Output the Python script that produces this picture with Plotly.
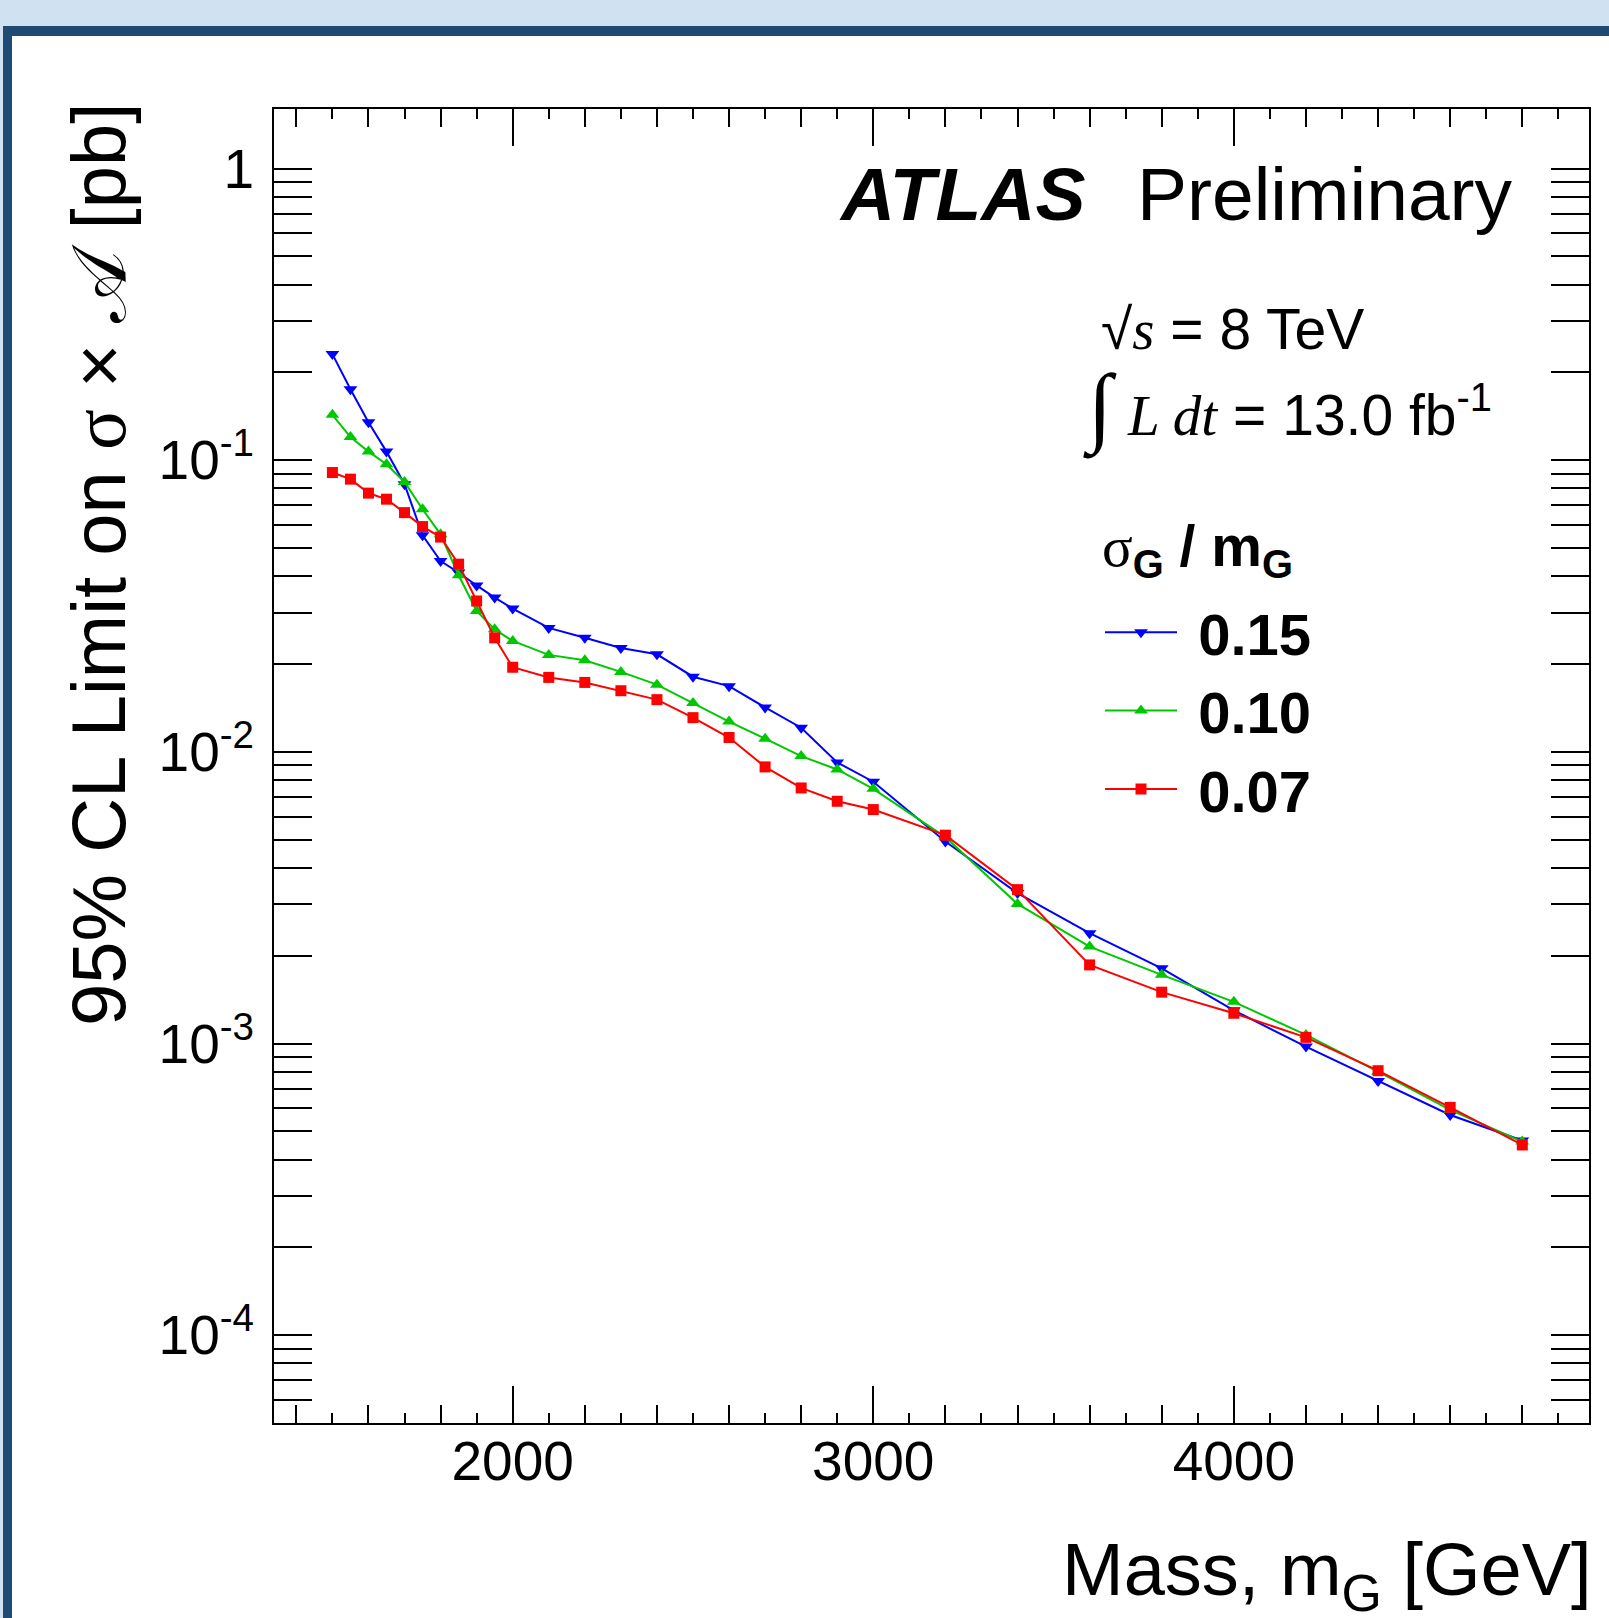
import plotly.graph_objects as go

# ---------------- data ----------------
masses = [1500, 1550, 1600, 1650, 1700, 1750, 1800, 1850, 1900, 1950, 2000,
          2100, 2200, 2300, 2400, 2500, 2600, 2700, 2800, 2900, 3000,
          3200, 3400, 3600, 3800, 4000, 4200, 4400, 4600, 4800]

limit_015 = [0.231, 0.175, 0.135, 0.107, 0.0827, 0.0553, 0.0451, 0.0412, 0.0372, 0.0338, 0.0310,
             0.0266, 0.0246, 0.0227, 0.0216, 0.0181, 0.0168, 0.0142, 0.0121, 0.0092, 0.0079,
             0.00493, 0.00328, 0.00239, 0.00181, 0.00130, 0.000976, 0.000744, 0.000569, 0.000465]

limit_010 = [0.143, 0.120, 0.107, 0.0969, 0.0842, 0.0679, 0.0557, 0.0403, 0.0304, 0.0263, 0.0240,
             0.0215, 0.0206, 0.0188, 0.0170, 0.0147, 0.0127, 0.0111, 0.00967, 0.0087, 0.00747,
             0.0051, 0.00301, 0.00215, 0.00172, 0.00139, 0.00107, 0.000801, 0.000592, 0.000461]

limit_007 = [0.0907, 0.0861, 0.0771, 0.0735, 0.0661, 0.0592, 0.0545, 0.0440, 0.0329, 0.0246, 0.0195,
             0.0180, 0.0173, 0.0162, 0.0151, 0.0131, 0.0112, 0.00888, 0.00752, 0.00677, 0.00634,
             0.00518, 0.00337, 0.00186, 0.00150, 0.00127, 0.00105, 0.000807, 0.000604, 0.000449]

series_names = ["0.15", "0.10", "0.07"]
ytick_vals = [1, 0.1, 0.01, 0.001, 0.0001]
ytick_text = ["1", "10<sup>-1</sup>", "10<sup>-2</sup>", "10<sup>-3</sup>", "10<sup>-4</sup>"]

# ---------------- styling ----------------
FONT = "Liberation Sans, Arial, Helvetica, sans-serif"
W, H = 1609, 1618
L, R, T, B = 274, 20, 109, 195
PW, PH = W - L - R, H - T - B


def px(x):
    return (x - L) / PW


def py(y):
    return (H - B - y) / PH


fig = go.Figure()
styles = [
    dict(color="#0000ff", symbol="triangle-down", size=12),
    dict(color="#00c800", symbol="triangle-up", size=12),
    dict(color="#ff0000", symbol="square", size=11),
]
for name, vals, st in zip(series_names, [limit_015, limit_010, limit_007], styles):
    fig.add_trace(go.Scatter(
        x=masses, y=vals, mode="lines+markers", name="\u00a0<b>" + name + "</b>",
        legendgroup=name,
        line=dict(color=st["color"], width=2),
        marker=dict(color=st["color"], symbol=st["symbol"], size=st["size"], line=dict(width=0)),
    ))

# empty helper trace so the secondary tick axis is drawn
fig.add_trace(go.Scatter(x=[], y=[], xaxis="x2", showlegend=False, hoverinfo="skip"))

xr = [1338, 4985]
fig.update_layout(
    width=W, height=H, autosize=False,
    margin=dict(l=L, r=R, t=T, b=B, pad=0),
    paper_bgcolor="white", plot_bgcolor="white",
    font=dict(family=FONT, color="black"),
    showlegend=True,
    xaxis=dict(
        range=xr, showline=True, linewidth=2, linecolor="black", mirror="allticks",
        ticks="inside", ticklen=37, tickwidth=2, tickcolor="black", dtick=1000, tick0=0,
        tickfont=dict(size=55, family=FONT), ticklabelstandoff=-11,
        minor=dict(ticks="inside", ticklen=10, tickwidth=1.5, tickcolor="black", dtick=100, tick0=0),
        showgrid=False, zeroline=False,
    ),
    xaxis2=dict(
        range=xr, overlaying="x", anchor="y", side="bottom",
        ticks="inside", ticklen=18, tickwidth=1.5, tickcolor="black", dtick=200, tick0=0,
        showticklabels=False, showline=False, mirror="ticks", showgrid=False, zeroline=False,
    ),
    yaxis=dict(
        type="log", range=[-4.301, 0.204], showline=True, linewidth=2, linecolor="black",
        mirror="allticks", ticks="inside", ticklen=38, tickwidth=2, tickcolor="black",
        tickmode="array", tickvals=ytick_vals, ticktext=ytick_text,
        tickfont=dict(size=55, family=FONT), ticklabelstandoff=7,
        minor=dict(ticks="inside", ticklen=20, tickwidth=1.5, tickcolor="black", dtick="D1"),
        showgrid=False, zeroline=False,
    ),
    legend=dict(
        x=px(1100), y=py(588), xanchor="left", yanchor="top",
        bgcolor="rgba(0,0,0,0)", borderwidth=0,
        font=dict(size=58, family=FONT, color="black"),
        itemwidth=72, tracegroupgap=2, traceorder="normal",
    ),
)

LIGHT = "#d0e1f2"
DARK = "#1e4a73"
fig.add_shape(type="rect", xref="paper", yref="paper", x0=-0.3, x1=1.2, y0=py(26), y1=py(-10),
              fillcolor=LIGHT, line=dict(width=0), layer="below")
fig.add_shape(type="rect", xref="paper", yref="paper", x0=-0.3, x1=1.2, y0=py(36), y1=py(26),
              fillcolor=DARK, line=dict(width=0), layer="below")
fig.add_shape(type="rect", xref="paper", yref="paper", x0=px(-10), x1=px(3), y0=py(H + 10), y1=py(26),
              fillcolor=LIGHT, line=dict(width=0), layer="below")
fig.add_shape(type="rect", xref="paper", yref="paper", x0=px(3), x1=px(12), y0=py(H + 10), y1=py(26),
              fillcolor=DARK, line=dict(width=0), layer="below")

SER = "font-family:Liberation Serif"
ann = [
    dict(text="<b><i>ATLAS</i></b>", x=px(1087), y=py(194), xanchor="right", yanchor="middle",
         font=dict(size=75, family=FONT)),
    dict(text="Preliminary", x=px(1135), y=py(194), xanchor="left", yanchor="middle",
         font=dict(size=75, family=FONT)),
    dict(text="√<span style='" + SER + "'><i>s</i></span> = 8 TeV",
         x=px(1099), y=py(329), xanchor="left", yanchor="middle", font=dict(size=57, family=FONT)),
    dict(text="<span style='" + SER + ";font-size:88px'>∫</span> <span style='" + SER + "'><i>L dt</i></span> = 13.0 fb<sup>-1</sup>",
         x=px(1081), y=py(408), xanchor="left", yanchor="middle", font=dict(size=57, family=FONT)),
    dict(text="<span style='" + SER + "'>σ</span><sub><b>G</b></sub><b> / m</b><sub><b>G</b></sub>",
         x=px(1100), y=py(550), xanchor="left", yanchor="middle", font=dict(size=57, family=FONT)),
    dict(text="95% CL Limit on <span style='" + SER + "'>σ</span> × 𝒜 [pb]",
         x=px(98), y=py(565), xanchor="center", yanchor="middle", textangle=-90,
         font=dict(size=76, family=FONT)),
    dict(text="Mass, m<sub>G</sub> [GeV]", x=px(1594), y=py(1575), xanchor="right", yanchor="middle",
         font=dict(size=74, family=FONT)),
]
for a in ann:
    fig.add_annotation(xref="paper", yref="paper", showarrow=False, **a)

fig.write_html("out.html")
